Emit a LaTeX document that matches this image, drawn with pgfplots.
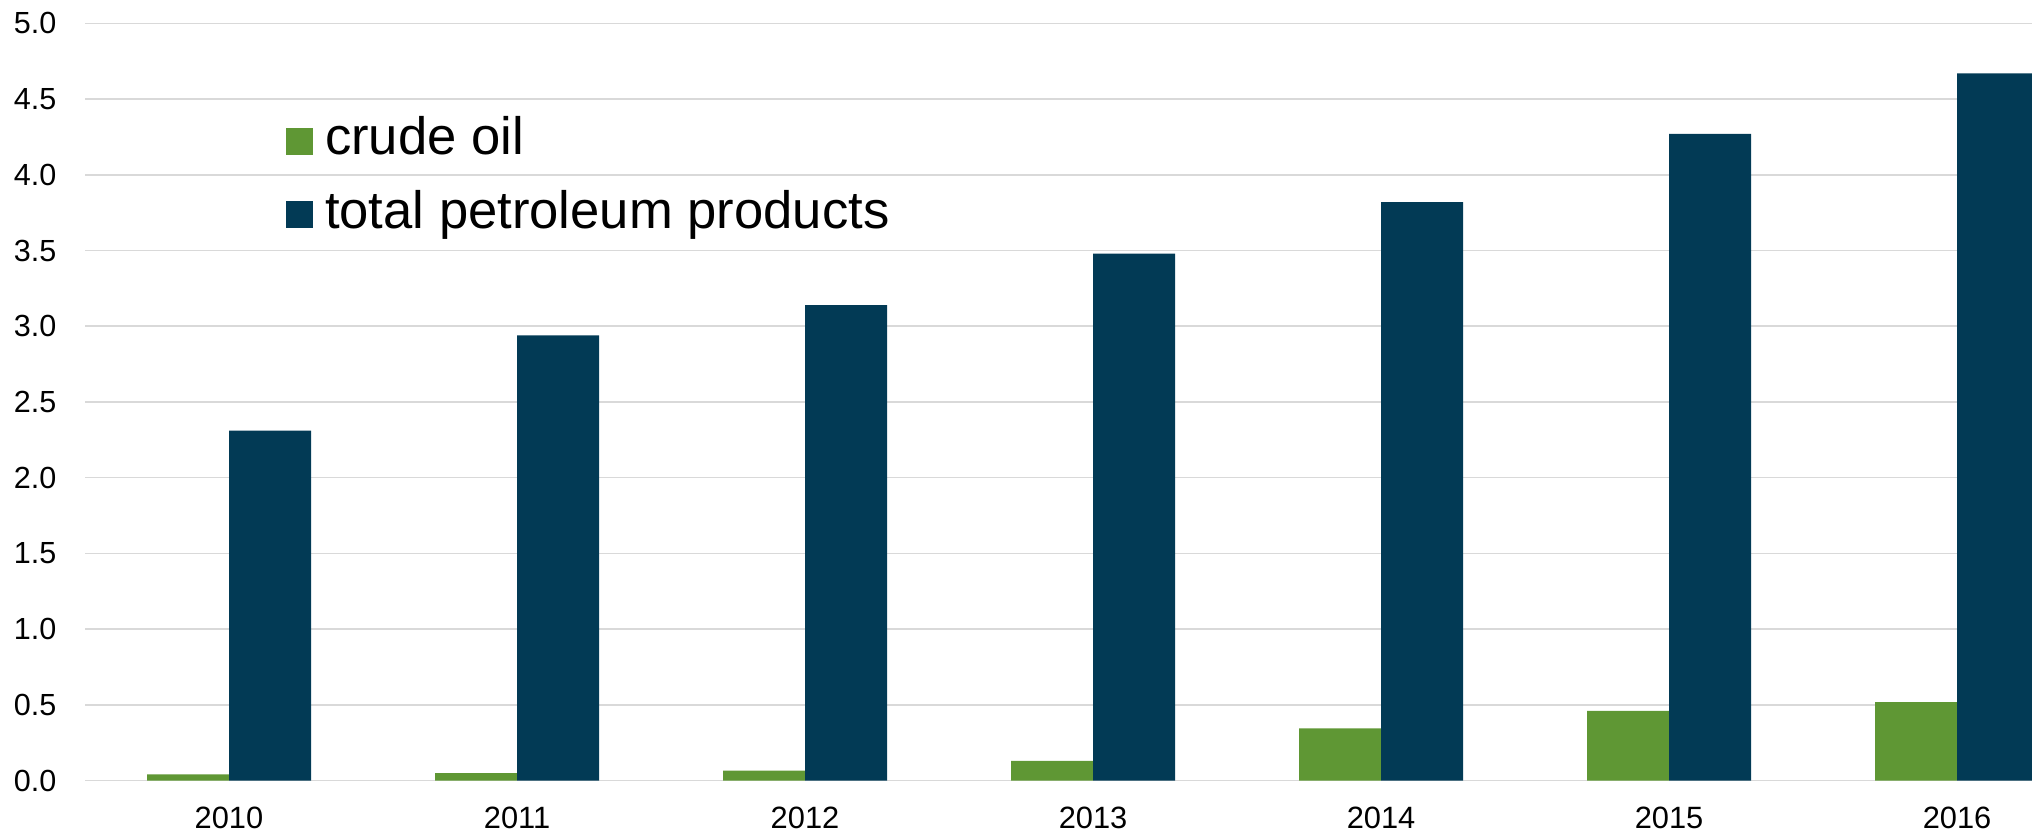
\documentclass[border=0pt]{standalone}
\usepackage{pgfplots}
\pgfplotsset{compat=1.18}
\usepackage{fontspec}
\setmainfont{Liberation Sans}
\definecolor{crude}{HTML}{5F9734}
\definecolor{petro}{HTML}{023A55}
\definecolor{gridgrey}{HTML}{D9D9D9}
\pgfplotsset{sq legend/.style={legend image code/.code={%
    \fill[##1] (0bp,-5.05bp) rectangle (10.1bp,5.05bp);}}}
\begin{document}
\begin{tikzpicture}
\begin{axis}[
    scale only axis,
    width=730.1bp, height=283.9bp,
    xmin=-0.5, xmax=6.26, ymin=0, ymax=5,
    ybar, bar width=30.75bp,
    axis line style={draw=none},
    tick style={draw=none},
    major tick length=0pt,
    ymajorgrids,
    major grid style={gridgrey, line width=0.6bp},
    ytick={0,0.5,1,1.5,2,2.5,3,3.5,4,4.5,5},
    xtick={0,1,2,3,4,5,6},
    xticklabels={2010,2011,2012,2013,2014,2015,2016},
    /pgf/number format/assume math mode=true,
    yticklabel={\pgfmathprintnumber[fixed,fixed zerofill,precision=1]{\tick}},
    yticklabel style={anchor=east, inner sep=0pt, xshift=-10.5bp,
        font=\fontsize{11.5}{14}\selectfont},
    xticklabel style={anchor=north, inner sep=0pt, yshift=-9.8bp,
        font=\fontsize{11.6}{14}\selectfont},
    legend cell align=left,
    legend style={draw=none, fill=none, at={(0.1032,0.8774)}, anchor=north west,
        inner sep=0pt, outer sep=0pt, row sep=8.8bp, column sep=4.6bp,
        font=\fontsize{19.8}{23}\selectfont,
        nodes={inner sep=0pt, text height=14.5bp, text depth=4.2bp}},
]
\addplot[fill=crude, draw=none, bar shift=-15.375bp, sq legend]
    coordinates {(0,0.04) (1,0.048) (2,0.065) (3,0.13) (4,0.345) (5,0.46) (6,0.518)};
\addlegendentry{crude oil}
\addplot[fill=petro, draw=none, bar shift=15.375bp, sq legend]
    coordinates {(0,2.31) (1,2.94) (2,3.14) (3,3.48) (4,3.82) (5,4.27) (6,4.67)};
\addlegendentry{total petroleum products}
\end{axis}
\pgfresetboundingbox
\useasboundingbox (-31.875bp,-20.06bp) rectangle (730.125bp,292.69bp);
\end{tikzpicture}
\end{document}
